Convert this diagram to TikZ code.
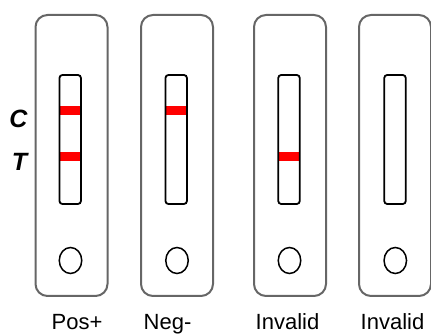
\documentclass[tikz,border=0pt]{standalone}
\usepackage{fontspec}
\setmainfont{Liberation Sans}
\usetikzlibrary{shapes.geometric}
\begin{document}
\begin{tikzpicture}[x=1pt,y=-1pt,
  stripbox/.style={draw=black!60, line width=2pt, rounded corners=12pt, minimum width=72pt, minimum height=281pt, inner sep=0pt},
  window/.style={draw=black, line width=1.8pt, rounded corners=3pt, minimum width=21.5pt, minimum height=129pt, inner sep=0pt},
  redline/.style={fill=red, minimum width=20pt, minimum height=9pt, inner sep=0pt},
  well/.style={draw=black, line width=1.5pt, ellipse, minimum width=22.5pt, minimum height=26pt, inner sep=0pt},
  lab/.style={font=\fontsize{22}{26}\selectfont, anchor=base, inner sep=0pt},
  ctlab/.style={font=\fontsize{25}{29}\selectfont\bfseries\itshape}
]
\useasboundingbox (0,0) rectangle (431,336);
% strips
\node[stripbox] (s1) at (71.5,155.5) {};
\node[stripbox] (s2) at (177,155.5) {};
\node[stripbox] (s3) at (290,155.5) {};
\node[stripbox] (s4) at (395,155.5) {};
% red lines (under windows)
\node[redline] (c1) at (70.2,110.7) {};
\node[redline] (t1) at (70.2,157) {};
\node[redline] (c2) at (176.2,110.7) {};
\node[redline] (t3) at (289,157) {};
% windows
\node[window] (w1) at (70.2,139.5) {};
\node[window] (w2) at (176.2,139.5) {};
\node[window] (w3) at (289,139.5) {};
\node[window] (w4) at (395,139.5) {};
% wells
\node[well] (o1) at (70.5,260.5) {};
\node[well] (o2) at (177,260.5) {};
\node[well] (o3) at (289.5,260.5) {};
\node[well] (o4) at (395.3,260.5) {};
% labels
\node[ctlab] (lc) at (18.5,119) {C};
\node[ctlab] (lt) at (19.5,162) {T};
\node[lab] (l1) at (77,330) {Pos+};
\node[lab] (l2) at (167.5,330) {Neg-};
\node[lab] (l3) at (287.5,330) {Invalid};
\node[lab] (l4) at (392.5,330) {Invalid};
\end{tikzpicture}
\end{document}
